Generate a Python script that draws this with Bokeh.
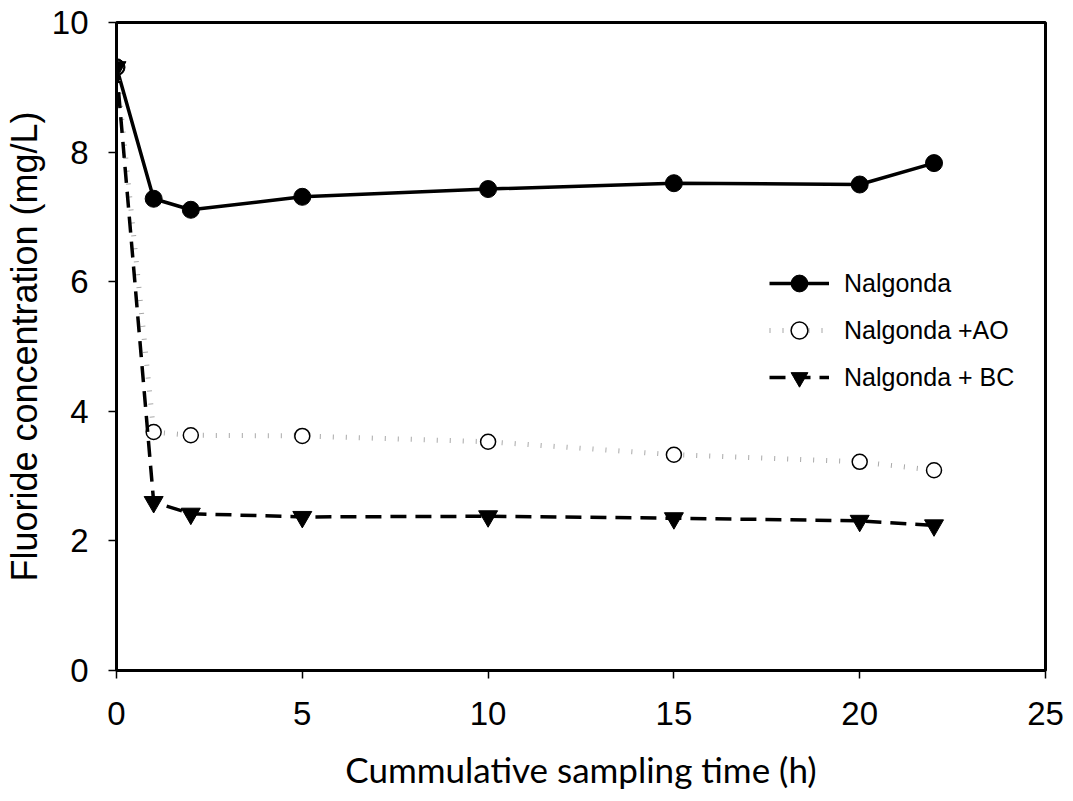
from bokeh.plotting import figure
from bokeh.models import Range1d, FixedTicker, Legend, LegendItem
from bokeh.embed import file_html
from bokeh.resources import INLINE

time_h = [0, 1, 2, 5, 10, 15, 20, 22]
nalgonda = [9.31, 7.28, 7.11, 7.31, 7.43, 7.52, 7.50, 7.83]
nalgonda_ao = [9.31, 3.68, 3.63, 3.62, 3.53, 3.33, 3.22, 3.09]
nalgonda_bc = [9.31, 2.60, 2.42, 2.37, 2.38, 2.35, 2.31, 2.24]

x_ticks = [0, 5, 10, 15, 20, 25]
y_ticks = [0, 2, 4, 6, 8, 10]

p = figure(width=1065, height=801, output_backend="svg", toolbar_location=None,
           x_range=Range1d(0, 25), y_range=Range1d(0, 10),
           min_border_left=115, min_border_right=20, min_border_top=22, min_border_bottom=131)
p.grid.visible = False
p.outline_line_color = "black"
p.outline_line_width = 3

for ax in (p.xaxis[0], p.yaxis[0]):
    ax.axis_line_width = 3
    ax.axis_line_color = "black"
    ax.major_tick_line_width = 1.5
    ax.major_tick_line_color = "black"
    ax.major_tick_out = 8
    ax.major_tick_in = 0
    ax.minor_tick_line_color = None
    ax.major_label_text_font = "Liberation Sans"
    ax.major_label_text_font_size = "33px"
    ax.major_label_text_color = "black"
    ax.axis_label_text_font_style = "normal"
    ax.axis_label_text_color = "black"

p.xaxis.ticker = FixedTicker(ticks=x_ticks)
p.yaxis.ticker = FixedTicker(ticks=y_ticks)
p.xaxis.major_label_standoff = 23
p.yaxis.major_label_standoff = 20

p.xaxis.axis_label = "Cummulative sampling time (h)"
p.xaxis.axis_label_text_font = "Lato"
p.xaxis.axis_label_text_font_size = "35px"
p.xaxis.axis_label_standoff = 20

p.yaxis.axis_label = "Fluoride concentration (mg/L)"
p.yaxis.axis_label_text_font = "Liberation Sans"
p.yaxis.axis_label_text_font_size = "36px"
p.yaxis.axis_label_standoff = 4

l1 = p.line(time_h, nalgonda, line_color="black", line_width=3.5)
m1 = p.scatter(time_h, nalgonda, marker="circle", size=17, fill_color="black", line_color="black")

l2 = p.line(time_h, nalgonda_ao, line_color="#a8a8a8", line_width=5, line_dash="1 12")
m2 = p.scatter(time_h, nalgonda_ao, marker="circle", size=15, fill_color="white",
               line_color="black", line_width=1.5)

l3 = p.line(time_h, nalgonda_bc, line_color="black", line_width=3.5, line_dash="16 9")
m3 = p.scatter(time_h, nalgonda_bc, marker="inverted_triangle", size=19, fill_color="black",
               line_color="black")

legend = Legend(items=[
    LegendItem(label="Nalgonda", renderers=[l1, m1]),
    LegendItem(label="Nalgonda +AO", renderers=[l2, m2]),
    LegendItem(label="Nalgonda + BC", renderers=[l3, m3]),
], location=(653, 272))
legend.label_text_font = "Liberation Sans"
legend.label_text_font_size = "25px"
legend.label_text_color = "black"
legend.glyph_width = 60
legend.glyph_height = 42
legend.spacing = 5
legend.label_standoff = 15
legend.padding = 0
legend.margin = 0
legend.border_line_alpha = 0
legend.background_fill_alpha = 0
p.add_layout(legend, "center")

open("out.html", "w").write(file_html(p, INLINE))
